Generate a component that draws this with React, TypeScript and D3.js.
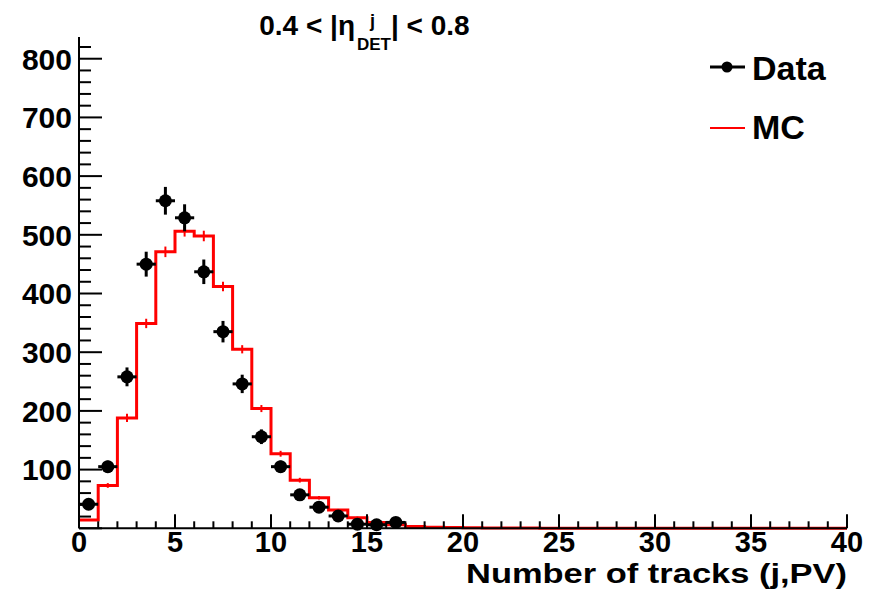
import React from "react";
import * as d3 from "d3";

// Number of tracks per jet from the primary vertex, 0.4 < |eta_DET| < 0.8
const binEdges = d3.range(0, 41); // 40 unit-wide bins from 0 to 40

// Measured data (bin contents), bins 0..16
const dataCounts = [41, 105, 258, 450, 558, 529, 437, 335, 246, 156, 105, 57, 36, 21, 7, 6, 10];

// Simulation prediction, bins 0..39
const mcCounts = [
  14, 73, 188, 349, 471, 506, 498, 412, 305, 204, 127, 82, 52, 31, 18, 10, 6, 3, 2, 1.2,
  0.8, 0.5, 0.3, 0.3, 0.2, 0.2, 0.1, 0.1, 0.1, 0.1, 0, 0, 0, 0, 0, 0, 0, 0, 0, 0,
];
const mcErrors = [1, 4, 7, 8, 9, 9, 9, 8, 7, 6, 5, 4, 3, 2, 2, 1, 1, 0, 0, 0];

const xTickValues = [0, 5, 10, 15, 20, 25, 30, 35, 40];
const yTickValues = [100, 200, 300, 400, 500, 600, 700, 800];

const W = 885;
const H = 594;
const FONT = "'Liberation Sans', Arial, Helvetica, sans-serif";

export default function App() {
  const x = d3.scaleLinear().domain([0, 40]).range([79, 847]);
  const y = d3.scaleLinear().domain([0, 837]).range([528.3, 37]);

  const xMinor = d3.range(0, 41, 1);
  const yMinor = d3.range(0, 837, 20);

  const stepPts: [number, number][] = mcCounts.map((v, i) => [binEdges[i], v]);
  stepPts.push([40, mcCounts[mcCounts.length - 1]]);
  const stepLine = d3
    .line<[number, number]>()
    .x((d) => x(d[0]))
    .y((d) => y(d[1]))
    .curve(d3.curveStepAfter);

  const red = "#ff0000";

  return (
    <svg
      width={W}
      height={H}
      style={{ position: "absolute", left: 0, top: 0, background: "#fff" }}
      fontFamily={FONT}
      fontWeight="bold"
    >
      {/* MC histogram */}
      <path d={stepLine(stepPts) || ""} fill="none" stroke={red} strokeWidth={3} />
      {mcErrors.map((e, i) =>
        e > 0 ? (
          <line
            key={"me" + i}
            x1={x(i + 0.5)}
            x2={x(i + 0.5)}
            y1={y(mcCounts[i] - e)}
            y2={y(mcCounts[i] + e)}
            stroke={red}
            strokeWidth={2}
          />
        ) : null
      )}

      {/* Data points with errors */}
      {dataCounts.map((v, i) => {
        const err = Math.sqrt(v);
        return (
          <g key={"d" + i}>
            <line x1={x(i)} x2={x(i + 1)} y1={y(v)} y2={y(v)} stroke="#000" strokeWidth={3} />
            <line
              x1={x(i + 0.5)}
              x2={x(i + 0.5)}
              y1={y(Math.max(0, v - err))}
              y2={y(v + err)}
              stroke="#000"
              strokeWidth={3}
            />
            <circle cx={x(i + 0.5)} cy={y(v)} r={6.5} fill="#000" />
          </g>
        );
      })}

      {/* Axes */}
      <g stroke="#000" strokeWidth={2}>
        <line x1={x(0)} x2={x(0)} y1={y(837)} y2={y(0)} />
        <line x1={x(0)} x2={x(40)} y1={y(0)} y2={y(0)} />
        {yMinor.map((v) => (
          <line key={"ym" + v} x1={x(0)} x2={x(0) + (v % 100 === 0 ? 23 : 12)} y1={y(v)} y2={y(v)} />
        ))}
        {xMinor.map((v) => (
          <line key={"xm" + v} x1={x(v)} x2={x(v)} y1={y(0)} y2={y(0) - (v % 5 === 0 ? 14 : 7)} />
        ))}
      </g>
      {yTickValues.map((v) => (
        <text key={"yl" + v} x={72} y={y(v)} dy="0.36em" textAnchor="end" fontSize={30}>
          {v}
        </text>
      ))}
      {xTickValues.map((v) => (
        <text key={"xl" + v} x={x(v)} y={552} textAnchor="middle" fontSize={29}>
          {v}
        </text>
      ))}
      <text x={466} y={583} fontSize={27} textLength={381} lengthAdjust="spacingAndGlyphs">
        Number of tracks (j,PV)
      </text>

      {/* Title */}
      <text x={355} y={35} textAnchor="end" fontSize={28}>
        0.4 &lt; |η
      </text>
      <text x={370} y={27} fontSize={18}>
        j
      </text>
      <text x={357} y={50} fontSize={17}>
        DET
      </text>
      <text x={391} y={35} fontSize={28}>
        | &lt; 0.8
      </text>

      {/* Legend */}
      <line x1={710} x2={745} y1={67} y2={67} stroke="#000" strokeWidth={3} />
      <circle cx={727} cy={67} r={5.5} fill="#000" />
      <text x={752} y={80} fontSize={34}>
        Data
      </text>
      <line x1={710} x2={745} y1={128} y2={128} stroke={red} strokeWidth={2} />
      <text x={752} y={139} fontSize={34}>
        MC
      </text>
    </svg>
  );
}
